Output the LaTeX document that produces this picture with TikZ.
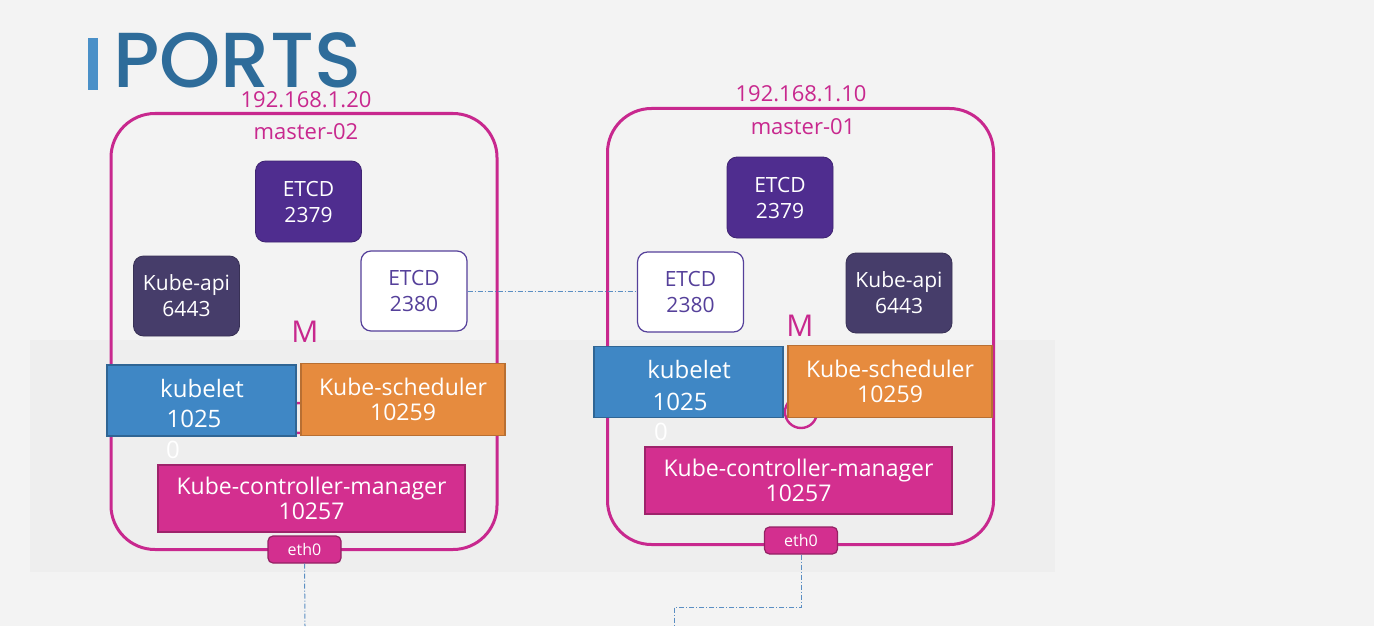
\documentclass[tikz,border=0pt]{standalone}
\usepackage{fontspec}
\setmainfont{Open Sans}
\IfFontExistsTF{Poppins Medium}{\newfontfamily\titlefont{Poppins Medium}}{%
  \IfFontExistsTF{Poppins SemiBold}{\newfontfamily\titlefont{Poppins SemiBold}}{%
    \newfontfamily\titlefont{Open Sans Bold}}}
\usetikzlibrary{positioning}
\definecolor{bgGray}{HTML}{F3F3F3}
\definecolor{bandGray}{HTML}{EEEEEE}
\definecolor{titleBlue}{HTML}{2E6C9A}
\definecolor{barBlue}{HTML}{4A90C8}
\definecolor{hostMagenta}{HTML}{C8288E}
\definecolor{etcdPurple}{HTML}{4F2D8F}
\definecolor{apiSlate}{HTML}{463D6A}
\definecolor{peerPurple}{HTML}{55409A}
\definecolor{kubeletBlue}{HTML}{3F87C5}
\definecolor{schedOrange}{HTML}{E68B3E}
\definecolor{kcmPink}{HTML}{D32F8F}
\definecolor{linkBlue}{HTML}{5B8EC2}
\tikzset{
    server/.style={
        rectangle, rounded corners=22pt, minimum width=193pt, minimum height=218pt,
        draw=hostMagenta, line width=1.5pt
    },
    ip_label/.style={
        inner sep=1pt, text=hostMagenta, font=\fontsize{11}{13}\selectfont
    },
    etcd_main/.style={
        rectangle, rounded corners=5pt, minimum width=53pt, minimum height=40.5pt,
        align=center, draw=etcdPurple!80!black, fill=etcdPurple, text=white, font=\fontsize{10.5}{13}\selectfont
    },
    etcd_peer/.style={
        rectangle, rounded corners=5pt, minimum width=53pt, minimum height=40pt,
        align=center, draw=peerPurple, line width=0.6pt, fill=white, text=peerPurple, font=\fontsize{10.5}{13}\selectfont
    },
    api_node/.style={
        rectangle, rounded corners=5pt, minimum width=53pt, minimum height=40pt,
        align=center, draw=apiSlate!80!black, fill=apiSlate, text=white, font=\fontsize{10.5}{13}\selectfont
    },
    kubelet_node/.style={
        rectangle, minimum width=94.5pt, minimum height=35.5pt,
        draw=kubeletBlue!75!black, line width=0.6pt, fill=kubeletBlue
    },
    sched_node/.style={
        rectangle, minimum width=102pt, minimum height=36pt,
        align=center, draw=schedOrange!80!black, line width=0.6pt, fill=schedOrange, text=white, font=\fontsize{11.5}{12.5}\selectfont
    },
    kcm_node/.style={
        rectangle, minimum width=153.5pt, minimum height=33.5pt,
        align=center, draw=kcmPink!75!black, line width=0.6pt, fill=kcmPink, text=white, font=\fontsize{11.5}{12.5}\selectfont
    },
    eth_node/.style={
        rectangle, rounded corners=2.5pt, minimum width=36.5pt, minimum height=13.5pt, inner sep=1pt,
        draw=kcmPink!70!black, line width=0.6pt, fill=kcmPink, text=white, font=\fontsize{8}{9}\selectfont
    },
    box_text/.style={
        inner sep=1pt, text=white, font=\fontsize{12}{14}\selectfont
    },
    master_mark/.style={
        text=hostMagenta, font=\fontsize{15}{15}\selectfont
    },
    link_line/.style={
        draw=linkBlue, line width=0.5pt, dash pattern=on 2.5pt off 1pt on 0.5pt off 1pt
    }
}
\begin{document}
\begin{tikzpicture}[x=0.5pt, y=-0.5pt]
    \fill[bgGray] (0,0) rectangle (1374,626);
    \useasboundingbox (0,0) rectangle (1374,626);
    \fill[bandGray] (30,340) rectangle (1055,572);

    % Titulo
    \fill[barBlue] (88,38) rectangle (98,90);
    \node[anchor=base west, inner sep=0pt, text=titleBlue, font=\fontsize{39}{40}\titlefont] (title) at (113,88) {PORTS};

    % master-02
    \node[server] (master2) at (304,331.5) {};
    \node[ip_label] (ip2) at (306,100) {192.168.1.20};
    \node[ip_label] (host2) at (306,132) {master-02};
    \node[etcd_main] (etcd2) at (308.5,201.5) {ETCD\\2379};
    \node[api_node] (api2) at (186.5,296) {Kube-api\\6443};
    \node[etcd_peer] (peer2) at (414,291) {ETCD\\2380};
    \node[master_mark] (m2) at (305,332) {M};
    \draw[hostMagenta, line width=1.2pt] (299,418) circle[radius=15];
    \node[kubelet_node] (kubelet2) at (201.5,400.5) {};
    \node[box_text] at (202,388) {kubelet};
    \node[box_text] at (194,419) {1025};
    \node[box_text] at (173,450) {0};
    \node[sched_node] (sched2) at (403,399.5) {Kube-scheduler\\10259};
    \node[kcm_node] (kcm2) at (311.5,498.5) {Kube-controller-manager\\10257};
    \node[eth_node] (eth2) at (304.5,549.5) {eth0};

    % master-01
    \node[server] (master1) at (800.5,326.5) {};
    \node[ip_label] (ip1) at (801,94) {192.168.1.10};
    \node[ip_label] (host1) at (803,127) {master-01};
    \node[etcd_main] (etcd1) at (780,197.5) {ETCD\\2379};
    \node[etcd_peer] (peer1) at (690.5,292) {ETCD\\2380};
    \node[api_node] (api1) at (899,293) {Kube-api\\6443};
    \node[master_mark] (m1) at (800,326) {M};
    \draw[hostMagenta, line width=1.2pt] (801,412) circle[radius=16];
    \node[kubelet_node] (kubelet1) at (688.5,382) {};
    \node[box_text] at (689,369) {kubelet};
    \node[box_text] at (680,402) {1025};
    \node[box_text] at (661,432) {0};
    \node[sched_node] (sched1) at (890,381.5) {Kube-scheduler\\10259};
    \node[kcm_node] (kcm1) at (798.5,480.5) {Kube-controller-manager\\10257};
    \node[eth_node] (eth1) at (801,540.5) {eth0};

    % Enlaces
    \coordinate (drop2) at (305,626);
    \coordinate (drop1) at (674,626);
    \draw[link_line] (peer2.east) -- (peer2.east -| peer1.west);
    \draw[link_line] (eth2.south) -- (drop2);
    \draw[link_line] (eth1.south) -- ++(0,53) -| (drop1);
\end{tikzpicture}
\end{document}
